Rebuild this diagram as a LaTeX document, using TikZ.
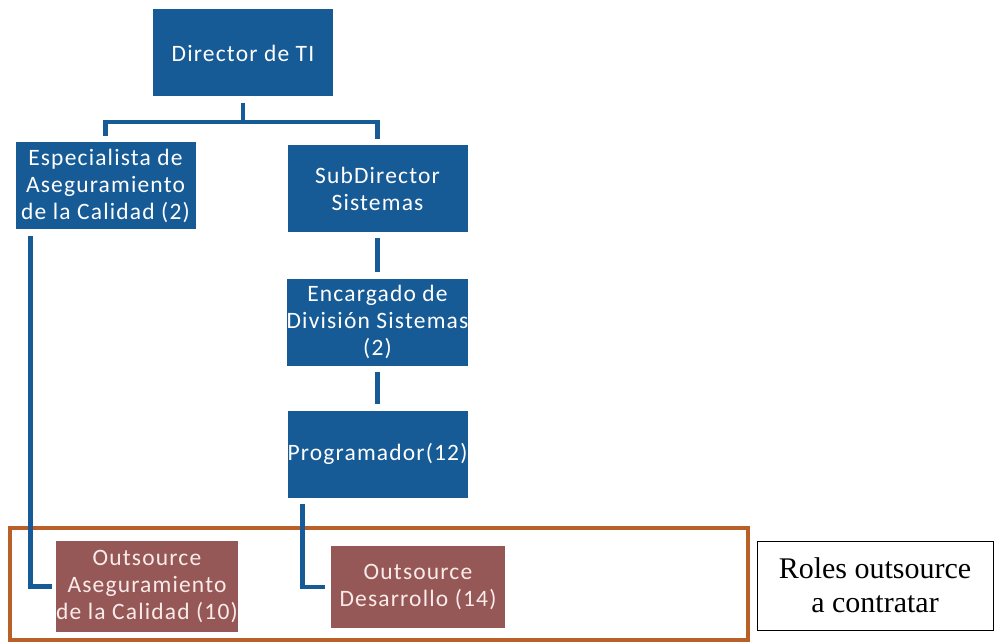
\documentclass[tikz,border=0pt]{standalone}
\usepackage{fontspec}
\newfontfamily\boxfont[LetterSpace=5]{Carlito}
\newfontfamily\rolesfont{Liberation Serif}
\definecolor{tiblue}{RGB}{22,90,150}
\definecolor{outbrown}{RGB}{150,88,86}
\definecolor{framebrown}{RGB}{185,95,40}

\begin{document}
\begin{tikzpicture}[x=1pt,y=-1pt,
    orgbox/.style={fill=tiblue, text=white, align=center, inner sep=0pt,
        minimum width=180pt, minimum height=87pt,
        font=\boxfont\fontsize{23.5}{27}\selectfont},
    outbox/.style={orgbox, fill=outbrown, text={rgb,255:red,250;green,235;blue,235}},
    link/.style={draw=tiblue, line width=4.8pt}]
        \useasboundingbox (0,0) rectangle (995,644);
        \draw[framebrown, line width=4.5pt, fill=white] (10,528) rectangle (748,640);
        \node[orgbox] (dir) at (243,53) {Director de TI};
        \node[orgbox] (esp) at (105.5,186) {Especialista de\\Aseguramiento\\de la Calidad (2)};
        \node[orgbox] (sub) at (377.5,188.5) {SubDirector\\Sistemas};
        \node[orgbox] (enc) at (377.5,322) {Encargado de\\División Sistemas\\(2)};
        \node[orgbox] (prog) at (377.5,454) {Programador(12)};
        \node[outbox, minimum height=91pt] (outqa) at (147,586.5) {Outsource\\Aseguramiento\\de la Calidad (10)};
        \node[outbox, minimum width=174pt, minimum height=82pt] (outdev) at (418,587) {Outsource\\Desarrollo (14)};
        \node[draw=black, line width=0.9pt, minimum width=236pt, minimum height=89pt, align=center,
            font=\rolesfont\fontsize{30}{34}\selectfont] (roles) at (875,585.5) {Roles outsource\\a contratar};
        \coordinate (fork) at (243,122);
        \draw[link] ([yshift=-6pt]dir.south) -- (fork);
        \draw[link] ([yshift=6pt]esp.north) |- (fork) -| ([yshift=6pt]sub.north);
        \draw[link] ([yshift=-6pt]sub.south) -- ([yshift=6pt]enc.north);
        \draw[link] ([yshift=-6pt]enc.south) -- ([yshift=6pt]prog.north);
        \draw[link] ([xshift=15pt,yshift=-6pt]esp.south west) |- ([xshift=-4pt]outqa.west);
        \draw[link] ([xshift=15pt,yshift=-6pt]prog.south west) |- ([xshift=-6pt]outdev.west);
    \end{tikzpicture}
\end{document}
